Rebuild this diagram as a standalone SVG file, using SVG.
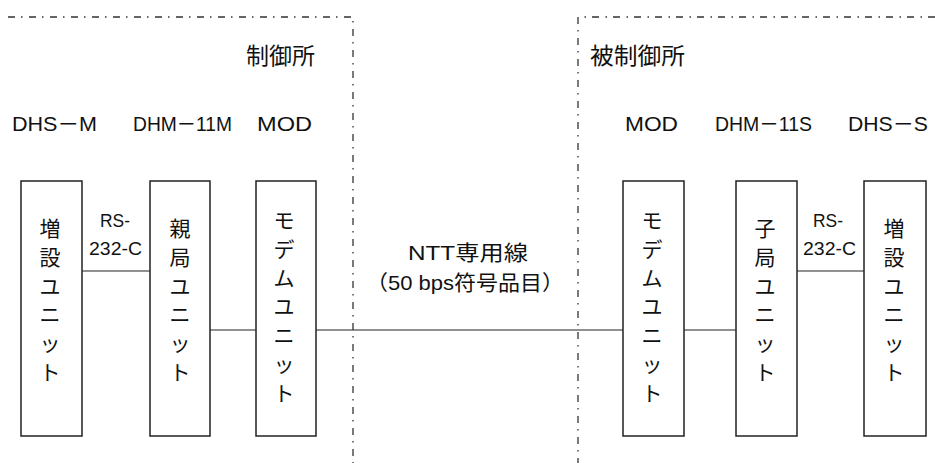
<svg xmlns="http://www.w3.org/2000/svg" width="935" height="463" viewBox="0 0 935 463">
<style>
.b{fill:#fff;stroke:#222;stroke-width:1.5}
.c{stroke:#222;stroke-width:1.2;fill:none}
.bd{stroke:#333;stroke-width:1.3;fill:none;stroke-dasharray:7 6 1.5 6.5}
text{font-family:"Noto Sans CJK JP","Liberation Sans",sans-serif;fill:#111}
.v{font-size:21px;writing-mode:vertical-rl;letter-spacing:7.8px;font-feature-settings:"vert" 0}
.l{font-size:21px;font-family:"Liberation Sans","Noto Sans CJK JP",sans-serif}
.j{font-size:23px;font-family:"Noto Sans CJK JP",sans-serif}
.n{font-size:19px;font-family:"Liberation Sans","Noto Sans CJK JP",sans-serif}
</style>
<rect width="935" height="463" fill="#fff"/>
<g id="boundaries">
<path class="bd" d="M8 17H353V463"/>
<path class="bd" d="M935 17H578V463"/>
</g>
<g id="connectors">
<line class="c" x1="82" y1="271" x2="150" y2="271"/>
<line class="c" x1="210" y1="330" x2="256" y2="330"/>
<line class="c" x1="316" y1="330" x2="623" y2="330"/>
<line class="c" x1="684" y1="330" x2="736" y2="330"/>
<line class="c" x1="797" y1="271" x2="864" y2="271"/>
</g>
<g id="labels">
<text class="j" x="246" y="64" textLength="69" lengthAdjust="spacingAndGlyphs">制御所</text>
<text class="j" x="590" y="64" textLength="95" lengthAdjust="spacingAndGlyphs">被制御所</text>
<text class="l" x="12" y="131" textLength="85" lengthAdjust="spacingAndGlyphs">DHS－M</text>
<text class="l" x="133" y="131" textLength="99" lengthAdjust="spacingAndGlyphs">DHM－11M</text>
<text class="l" x="257" y="131" textLength="55" lengthAdjust="spacingAndGlyphs">MOD</text>
<text class="l" x="625" y="131" textLength="53" lengthAdjust="spacingAndGlyphs">MOD</text>
<text class="l" x="715" y="131" textLength="97" lengthAdjust="spacingAndGlyphs">DHM－11S</text>
<text class="l" x="848" y="131" textLength="80" lengthAdjust="spacingAndGlyphs">DHS－S</text>
<text class="n" x="100" y="227" textLength="30" lengthAdjust="spacingAndGlyphs">RS-</text>
<text class="n" x="89" y="255" textLength="53" lengthAdjust="spacingAndGlyphs">232-C</text>
<text class="n" x="813" y="227" textLength="30" lengthAdjust="spacingAndGlyphs">RS-</text>
<text class="n" x="803" y="255" textLength="53" lengthAdjust="spacingAndGlyphs">232-C</text>
<text class="l" x="408" y="260" textLength="120" lengthAdjust="spacingAndGlyphs">NTT専用線</text>
<text class="l" x="366" y="290" textLength="198" lengthAdjust="spacingAndGlyphs">（50 bps符号品目）</text>
</g>
<g id="n1">
<rect class="b" x="21" y="181" width="61" height="255"/>
<text class="v" x="50" y="217.5">増設ユニット</text>
</g>
<g id="n2">
<rect class="b" x="150" y="181" width="60" height="255"/>
<text class="v" x="180" y="217.5">親局ユニット</text>
</g>
<g id="n3">
<rect class="b" x="256" y="181" width="60" height="255"/>
<text class="v" x="284" y="209.5">モデムユニット</text>
</g>
<g id="n4">
<rect class="b" x="623" y="181" width="61" height="255"/>
<text class="v" x="652" y="209.5">モデムユニット</text>
</g>
<g id="n5">
<rect class="b" x="736" y="181" width="61" height="255"/>
<text class="v" x="765" y="217.5">子局ユニット</text>
</g>
<g id="n6">
<rect class="b" x="864" y="181" width="62" height="255"/>
<text class="v" x="894" y="217.5">増設ユニット</text>
</g>
</svg>
